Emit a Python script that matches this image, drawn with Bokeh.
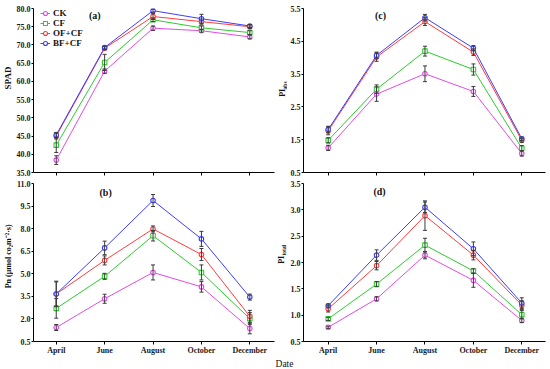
import math
from bokeh.plotting import figure
from bokeh.models import (ColumnDataSource, Whisker, TeeHead, Label, Legend,
                          LegendItem, FixedTicker, Range1d)
from bokeh.layouts import column, row
from bokeh.embed import file_html
from bokeh.resources import INLINE

# ---------------- data ----------------
months = ["April", "June", "August", "October", "December"]
treatments = ["CK", "CF", "OF+CF", "BF+CF"]

# (a) SPAD
spad_ck = [38.4, 62.8, 74.6, 73.9, 72.2]
spad_cf = [42.5, 65.2, 76.9, 74.7, 73.4]
spad_of = [45.0, 69.1, 77.8, 76.4, 75.0]
spad_bf = [45.3, 69.3, 79.4, 77.2, 75.2]
spad_ck_err = [1.2, 0.6, 0.6, 0.4, 0.5]
spad_cf_err = [2.0, 2.2, 0.5, 0.5, 0.5]
spad_of_err = [0.8, 0.4, 0.8, 0.7, 0.5]
spad_bf_err = [0.7, 0.4, 0.4, 1.2, 0.4]

# (b) Pn
pn_ck = [1.43, 3.34, 5.09, 4.13, 1.36]
pn_cf = [2.70, 4.83, 7.53, 5.09, 2.02]
pn_of = [3.66, 5.89, 7.98, 6.28, 2.17]
pn_bf = [3.66, 6.72, 9.87, 7.32, 3.45]
pn_ck_err = [0.2, 0.3, 0.5, 0.35, 0.35]
pn_cf_err = [0.65, 0.2, 0.35, 0.5, 0.4]
pn_of_err = [0.8, 0.3, 0.2, 0.4, 0.4]
pn_bf_err = [0.85, 0.45, 0.4, 0.5, 0.2]

# (c) PI abs
piabs_ck = [1.25, 2.89, 3.51, 2.97, 1.08]
piabs_cf = [1.48, 3.04, 4.20, 3.64, 1.24]
piabs_of = [1.77, 4.02, 5.10, 4.17, 1.48]
piabs_bf = [1.81, 4.07, 5.22, 4.29, 1.53]
piabs_ck_err = [0.08, 0.22, 0.24, 0.15, 0.08]
piabs_cf_err = [0.08, 0.13, 0.15, 0.17, 0.08]
piabs_of_err = [0.12, 0.13, 0.12, 0.10, 0.06]
piabs_bf_err = [0.10, 0.10, 0.10, 0.08, 0.05]

# (d) PI total
pitot_ck = [0.77, 1.31, 2.14, 1.66, 0.90]
pitot_cf = [0.93, 1.59, 2.33, 1.84, 1.01]
pitot_of = [1.12, 1.94, 2.89, 2.14, 1.19]
pitot_bf = [1.18, 2.14, 3.05, 2.26, 1.23]
pitot_ck_err = [0.02, 0.04, 0.07, 0.13, 0.04]
pitot_cf_err = [0.03, 0.05, 0.13, 0.04, 0.08]
pitot_of_err = [0.06, 0.08, 0.28, 0.09, 0.08]
pitot_bf_err = [0.03, 0.10, 0.10, 0.13, 0.10]

spad_ticks = [35.0, 40.0, 45.0, 50.0, 55.0, 60.0, 65.0, 70.0, 75.0, 80.0]
pn_ticks = [0.5, 2.0, 3.5, 5.0, 6.5, 8.0, 9.5, 11.0]
piabs_ticks = [0.5, 1.5, 2.5, 3.5, 4.5, 5.5]
pitot_ticks = [0.5, 1.0, 1.5, 2.0, 2.5, 3.0, 3.5]

# ---------------- style ----------------
colors = {"CK": "#e24be2", "CF": "#2ecb2e", "OF+CF": "#ff3c3c", "BF+CF": "#3d3dff"}
markers = {"CK": "circle", "CF": "square", "OF+CF": "circle", "BF+CF": "circle"}
FONT = "Liberation Serif"
ERR_COLOR = "#3a3a3a"

TOP_H = 177
BOT_H = 180
STRIP_H = 12


def make_panel(width, height, mb, frame, x_rng, y_rng, ticks, series, errs,
               show_xlabels):
    p = figure(width=width, height=height, output_backend="svg",
               toolbar_location=None,
               x_range=Range1d(*x_rng), y_range=Range1d(*y_rng),
               min_border_left=mb[0], min_border_right=mb[1],
               min_border_top=mb[2], min_border_bottom=mb[3])
    p.outline_line_color = None
    p.xgrid.visible = False
    p.ygrid.visible = False
    p.background_fill_color = "white"
    p.border_fill_color = "white"

    xs = list(range(len(months)))
    for ax in (p.xaxis[0], p.yaxis[0]):
        ax.axis_line_color = "black"
        ax.axis_line_width = 1
        ax.major_tick_line_color = "black"
        ax.major_tick_in = 0
        ax.major_tick_out = 2
        ax.minor_tick_line_color = None
        ax.major_label_text_font = FONT
        ax.major_label_text_font_style = "bold"
        ax.major_label_text_font_size = "8px"
        ax.major_label_text_color = "#1a1a1a"
    p.yaxis.ticker = FixedTicker(ticks=ticks)
    p.yaxis.major_label_overrides = {t: f"{t:.1f}" for t in ticks}
    p.yaxis.major_label_standoff = 1
    p.xaxis.ticker = FixedTicker(ticks=xs)
    p.xaxis.major_tick_out = 3
    if show_xlabels:
        p.xaxis.major_label_overrides = {i: m for i, m in enumerate(months)}
        p.xaxis.major_label_standoff = 1
    else:
        p.xaxis.major_label_overrides = {i: "" for i in xs}
        p.xaxis.major_label_text_font_size = "1px"
        p.xaxis.major_label_text_color = None
        p.xaxis.major_label_standoff = 0

    items = []
    for name in treatments:
        c = colors[name]
        ys = series[name]
        e = errs[name]
        src = ColumnDataSource(dict(x=xs, y=ys,
                                    lo=[a - b for a, b in zip(ys, e)],
                                    hi=[a + b for a, b in zip(ys, e)]))
        ln = p.line("x", "y", source=src, line_color=c, line_width=1.0)
        w = Whisker(base="x", lower="lo", upper="hi", source=src,
                    line_color=ERR_COLOR, line_width=1,
                    upper_head=TeeHead(size=4, line_color=ERR_COLOR, line_width=1),
                    lower_head=TeeHead(size=4, line_color=ERR_COLOR, line_width=1))
        w.level = "glyph"
        p.add_layout(w)
        sc = p.scatter("x", "y", source=src, marker=markers[name], size=4.5,
                       fill_color="white", line_color=c, line_width=1.1)
        items.append(LegendItem(label=name, renderers=[ln, sc]))

    L, T, fw, fh = frame

    def pos(xr, yr):
        xd = x_rng[0] + (xr - L) / fw * (x_rng[1] - x_rng[0])
        yd = y_rng[1] - (yr - T) / fh * (y_rng[1] - y_rng[0])
        return xd, yd

    return p, items, pos


def add_text(p, xd, yd, text, size, angle=0.0, style="bold"):
    p.add_layout(Label(x=xd, y=yd, text=text, angle=angle,
                       text_font=FONT, text_font_style=style,
                       text_font_size=size, text_color="#111111",
                       text_align="center", text_baseline="middle"))


def text_strip(width, height, texts):
    """A bare figure whose whole canvas is the frame; holds titles only."""
    f = figure(width=width, height=height, output_backend="svg",
               toolbar_location=None, x_axis_type=None, y_axis_type=None,
               x_range=Range1d(0, width), y_range=Range1d(0, height),
               min_border=0)
    f.min_border_left = f.min_border_right = 0
    f.min_border_top = f.min_border_bottom = 0
    f.outline_line_color = None
    f.background_fill_color = "white"
    f.border_fill_color = "white"
    for (x, y_top, txt, size, angle, style) in texts:
        add_text(f, x, height - y_top, txt, size, angle, style)
    return f


X_L = (-0.47, 4.51)
X_R = (-0.51, 4.49)
VERT = math.pi / 2

# (a)  canvas x 13..276
pa, items_a, pos_a = make_panel(
    263, TOP_H, (17, 2, 8, 5), (30, 8, 244, 164), X_L, (35.0, 80.0), spad_ticks,
    {"CK": spad_ck, "CF": spad_cf, "OF+CF": spad_of, "BF+CF": spad_bf},
    {"CK": spad_ck_err, "CF": spad_cf_err, "OF+CF": spad_of_err, "BF+CF": spad_bf_err},
    False)
# (c)  canvas x 287..550
pc, _, pos_c = make_panel(
    263, TOP_H, (13, 5, 8, 5), (300, 8, 245, 164), X_R, (0.5, 5.5), piabs_ticks,
    {"CK": piabs_ck, "CF": piabs_cf, "OF+CF": piabs_of, "BF+CF": piabs_bf},
    {"CK": piabs_ck_err, "CF": piabs_cf_err, "OF+CF": piabs_of_err, "BF+CF": piabs_bf_err},
    False)
# (b)
pb, _, pos_b = make_panel(
    263, BOT_H, (17, 2, 6, 14), (30, 183, 244, 160), X_L, (0.5, 11.0), pn_ticks,
    {"CK": pn_ck, "CF": pn_cf, "OF+CF": pn_of, "BF+CF": pn_bf},
    {"CK": pn_ck_err, "CF": pn_cf_err, "OF+CF": pn_of_err, "BF+CF": pn_bf_err},
    True)
# (d)
pd_, _, pos_d = make_panel(
    263, BOT_H, (13, 5, 6, 14), (300, 183, 245, 160), X_R, (0.5, 3.5), pitot_ticks,
    {"CK": pitot_ck, "CF": pitot_cf, "OF+CF": pitot_of, "BF+CF": pitot_bf},
    {"CK": pitot_ck_err, "CF": pitot_cf_err, "OF+CF": pitot_of_err, "BF+CF": pitot_bf_err},
    True)

# legend in (a)
leg = Legend(items=items_a, location=(7, 124), orientation="vertical",
             border_line_color=None, background_fill_alpha=0,
             padding=0, margin=0, spacing=0, glyph_height=10, glyph_width=10,
             label_height=10, label_standoff=3,
             label_text_font=FONT, label_text_font_style="bold",
             label_text_font_size="9px", label_text_color="#111111")
pa.add_layout(leg)

# panel letters
add_text(pa, *pos_a(92, 15), "(a)", "10px")
add_text(pb, *pos_b(103, 192), "(b)", "10px")
add_text(pc, *pos_c(378, 15), "(c)", "10px")
add_text(pd_, *pos_d(377, 191), "(d)", "10px")

# y axis titles, in narrow columns left of each panel
tA = text_strip(13, TOP_H, [(7.5, 75, "SPAD", "9px", VERT, "bold")])
tC = text_strip(11, TOP_H, [(5.5, 91, "PI", "8px", VERT, "bold"),
                            (8.3, 83, "abs", "5.5px", VERT, "bold")])
tB = text_strip(13, BOT_H, [(8.0, 83, "Pn (μmol co₂m⁻²·s)", "8px", VERT, "bold")])
tD = text_strip(11, BOT_H, [(5.0, 87, "PI", "8px", VERT, "bold"),
                            (7.6, 76, "total", "5.5px", VERT, "bold")])
# x axis title
tX = text_strip(550, STRIP_H, [(284, 6, "Date", "9.5px", 0.0, "normal")])

layout = column(row(tA, pa, tC, pc), row(tB, pb, tD, pd_), tX)

open("out.html", "w").write(file_html(layout, INLINE))
